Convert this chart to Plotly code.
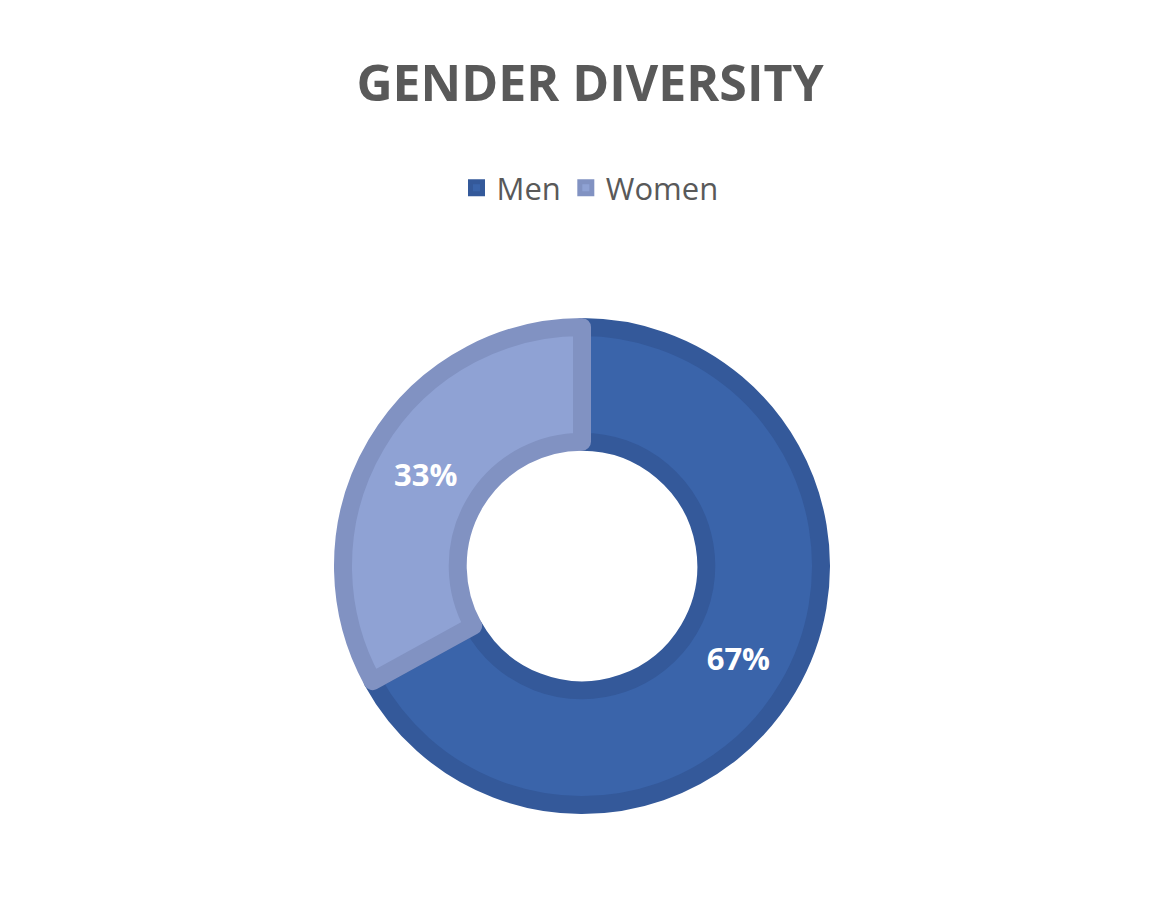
import plotly.graph_objects as go

labels = ["Men", "Women"]
values = [67, 33]
fill_colors = ["#3A64AA", "#8FA2D4"]
border_colors = ["#34599A", "#8192C2"]

W, H = 1164, 907
cx, cy, r = 574, 558, 239
fig = go.Figure(go.Pie(
    labels=labels, values=values, hole=0.52, sort=False,
    direction="clockwise", rotation=0,
    marker=dict(colors=fill_colors, line=dict(color=border_colors, width=18)),
    texttemplate="<b>%{percent:.0%}</b>", textposition="inside",
    insidetextfont=dict(color="white", size=31, family="Open Sans"),
    domain=dict(x=[(cx - r) / W, (cx + r) / W], y=[(H - cy - r) / H, (H - cy + r) / H]),
))
fig.update_layout(
    width=W, height=H, margin=dict(l=0, r=0, t=0, b=0),
    paper_bgcolor="white", plot_bgcolor="white",
    font=dict(family="Open Sans", color="#595959"),
    title=dict(text="<b>GENDER DIVERSITY</b>", x=0.5, xanchor="center", y=1 - 75 / H, yanchor="middle",
               font=dict(size=50, color="#595959", family="Open Sans")),
    legend=dict(orientation="h", x=0.5, xanchor="center", y=1 - 180 / H, yanchor="middle",
                font=dict(size=31, color="#595959")),
)
fig.write_html("out.html")
